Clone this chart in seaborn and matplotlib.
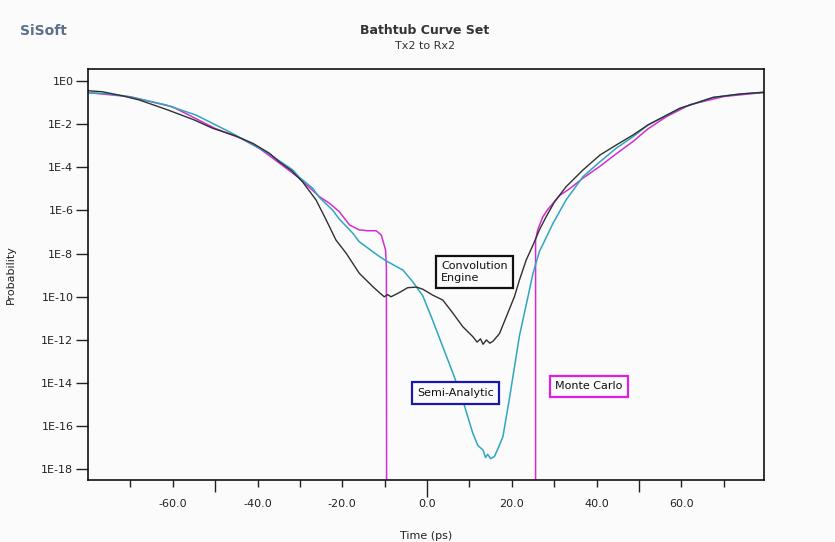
import numpy as np
import pandas as pd
import matplotlib
matplotlib.use("Agg")
import matplotlib.pyplot as plt
import seaborn as sns

# ---------------- data (time in ps, log10 of probability) ----------------
conv_x = [-80, -76.6, -72, -67.9, -61.2, -55, -50.6, -45.1, -41, -37.2, -34.9, -32,
          -29.4, -26.2, -23.8, -21.5, -19.1, -16.0, -12.8, -11.0, -10.1, -9.3, -8.5,
          -6.5, -4.6, -2.5, -1.0, 1.3, 3.7, 6.1, 8.4, 10.8, 11.8, 12.6, 13.2, 14.0,
          14.8, 15.6, 17.1, 18.7, 20.6, 21.8, 23.4, 25.0, 26.5, 28.1, 30.1, 32.8,
          36.8, 40.8, 44.6, 48.6, 52.1, 59.6, 67.5, 74, 80]
conv_log = [-0.45, -0.50, -0.68, -0.88, -1.34, -1.80, -2.19, -2.55, -2.90, -3.35,
            -3.74, -4.15, -4.67, -5.51, -6.44, -7.37, -7.98, -8.91, -9.53, -9.85,
            -10.0, -9.9, -10.0, -9.8, -9.58, -9.55, -9.65, -9.92, -10.15, -10.76,
            -11.38, -11.85, -12.1, -11.95, -12.2, -12.0, -12.15, -12.05, -11.7,
            -10.92, -10.0, -9.22, -8.29, -7.6, -6.9, -6.29, -5.59, -4.90, -4.12,
            -3.43, -2.97, -2.5, -2.04, -1.27, -0.76, -0.6, -0.52]

semi_x = [-80, -75, -70.3, -61.6, -54.5, -46.7, -38.0, -31.7, -30.2, -27.0, -25.4,
          -22.3, -20.7, -17.5, -16.0, -12.8, -11.2, -9.7, -6.5, -5.7, -3.4, -1.0, 1.3,
          3.7, 6.1, 8.4, 10.8, 12.0, 13.2, 13.8, 14.3, 15.0, 15.9, 16.8, 17.9, 19.5,
          21.8, 23.8, 25.0, 26.5, 27.5, 29.7, 32.8, 36.8, 40.8, 44.6, 48.6, 52.1,
          59.6, 67.5, 74, 80]
semi_log = [-0.54, -0.60, -0.73, -1.11, -1.58, -2.35, -3.28, -4.12, -4.45, -4.97,
            -5.4, -5.98, -6.4, -7.06, -7.45, -7.91, -8.14, -8.33, -8.68, -8.76, -9.3,
            -9.96, -11.08, -12.31, -13.54, -14.78, -16.33, -16.9, -17.1, -17.45,
            -17.3, -17.5, -17.4, -17.0, -16.48, -14.63, -11.8, -10.0, -8.91, -7.9,
            -7.5, -6.6, -5.51, -4.43, -3.74, -3.12, -2.58, -2.04, -1.27, -0.76, -0.6,
            -0.51]

mc_x = [-80, -70, -60, -50, -44, -39.6, -34.8, -30.1, -25.4, -23.0, -20.7, -18.3,
        -16.0, -14.0, -12.0, -10.8, -9.8, -9.6, -9.5, 25.6, 25.6, 26.1, 27.3, 28.5,
        31.3, 33.6, 36.8, 40.8, 44.6, 48.6, 52.1, 56.5, 62, 70, 80]
mc_log = [-0.54, -0.73, -1.2, -2.2, -2.65, -3.12, -3.81, -4.51, -5.36, -5.67, -6.06,
          -6.67, -6.9, -6.94, -6.94, -7.14, -7.83, -8.6, -30, -30, -7.37, -6.9,
          -6.3, -5.95, -5.3, -5.0, -4.5, -3.95, -3.38, -2.8, -2.22, -1.65, -1.1,
          -0.72, -0.52]

x_ticks = [-70, -60, -50, -40, -30, -20, -10, 0, 10, 20, 30, 40, 50, 60, 70]
x_tick_labels = ["", "-60.0", "", "-40.0", "", "-20.0", "", "0.0", "", "20.0", "",
                 "40.0", "", "60.0", ""]
y_tick_exp = [0, -2, -4, -6, -8, -10, -12, -14, -16, -18]
y_tick_labels = ["1E0", "1E-2", "1E-4", "1E-6", "1E-8", "1E-10", "1E-12", "1E-14",
                 "1E-16", "1E-18"]

# ---------------- figure ----------------
sns.set_theme(style="white")
plt.rcParams["font.family"] = ["DejaVu Sans"]

bg = "#fbfbfb"
fig = plt.figure(figsize=(8.35, 5.42), dpi=100, facecolor=bg)
ax = fig.add_axes([0.1054, 0.1144, 0.8096, 0.7583], facecolor=bg)
ax.set_yscale("log")

df_mc = pd.DataFrame({"t": mc_x, "p": np.power(10.0, mc_log)})
df_conv = pd.DataFrame({"t": conv_x, "p": np.power(10.0, conv_log)})
df_semi = pd.DataFrame({"t": semi_x, "p": np.power(10.0, semi_log)})

sns.lineplot(data=df_mc, x="t", y="p", ax=ax, color="#d42cd4", lw=1.1,
             sort=False, estimator=None)
sns.lineplot(data=df_semi, x="t", y="p", ax=ax, color="#2fa5c0", lw=1.1,
             sort=False, estimator=None)
sns.lineplot(data=df_conv, x="t", y="p", ax=ax, color="#303030", lw=1.0,
             sort=False, estimator=None)

ax.set_xlim(-80, 79.5)
ax.set_ylim(10 ** -18.49, 10 ** 0.556)

ax.set_xticks(x_ticks)
ax.set_xticklabels(x_tick_labels, fontsize=8, color="#222222")
ax.set_yticks([10.0 ** e for e in y_tick_exp])
ax.set_yticklabels(y_tick_labels, fontsize=8, color="#222222")
ax.minorticks_off()
ax.tick_params(axis="x", direction="out", length=5, width=1, pad=9, colors="#222222",
               bottom=True)
ax.tick_params(axis="y", direction="out", length=9, width=1, pad=1.5, colors="#222222",
               left=True)
for t, v in zip(ax.xaxis.get_major_ticks(), x_ticks):
    if v == 0:
        t.tick1line.set_markersize(12)
    elif abs(v) == 50:
        t.tick1line.set_markersize(8.5)

for s in ax.spines.values():
    s.set_color("#111111")
    s.set_linewidth(1.2)

ax.set_xlabel("Time (ps)", fontsize=8, color="#222222")
ax.set_ylabel("Probability", fontsize=8, color="#222222")
ax.xaxis.set_label_coords(0.5, -0.125)
ax.yaxis.set_label_coords(-0.107, 0.5)

# annotations
ax.text(0.5717, 0.506, "Convolution\nEngine", transform=ax.transAxes, fontsize=8,
        ha="center", va="center", multialignment="left", color="#111111",
        bbox=dict(boxstyle="square,pad=0.5", fc=bg, ec="#111111", lw=1.6))
ax.text(0.5436, 0.2117, "Semi-Analytic", transform=ax.transAxes, fontsize=8,
        ha="center", va="center", color="#111111",
        bbox=dict(boxstyle="square,pad=0.5", fc=bg, ec="#1818b0", lw=1.6))
ax.text(0.741, 0.2275, "Monte Carlo", transform=ax.transAxes, fontsize=8,
        ha="center", va="center", color="#111111",
        bbox=dict(boxstyle="square,pad=0.5", fc=bg, ec="#e020e0", lw=1.6))

# titles
fig.text(0.509, 0.943, "Bathtub Curve Set", fontsize=9, fontweight="bold",
         ha="center", va="center", color="#333333")
fig.text(0.509, 0.915, "Tx2 to Rx2", fontsize=8, ha="center", va="center",
         color="#333333")
fig.text(0.024, 0.943, "SiSoft", fontsize=10, fontweight="bold", ha="left",
         va="center", color="#5c6f8c")

fig.savefig("out.png", dpi=100, facecolor=bg)
